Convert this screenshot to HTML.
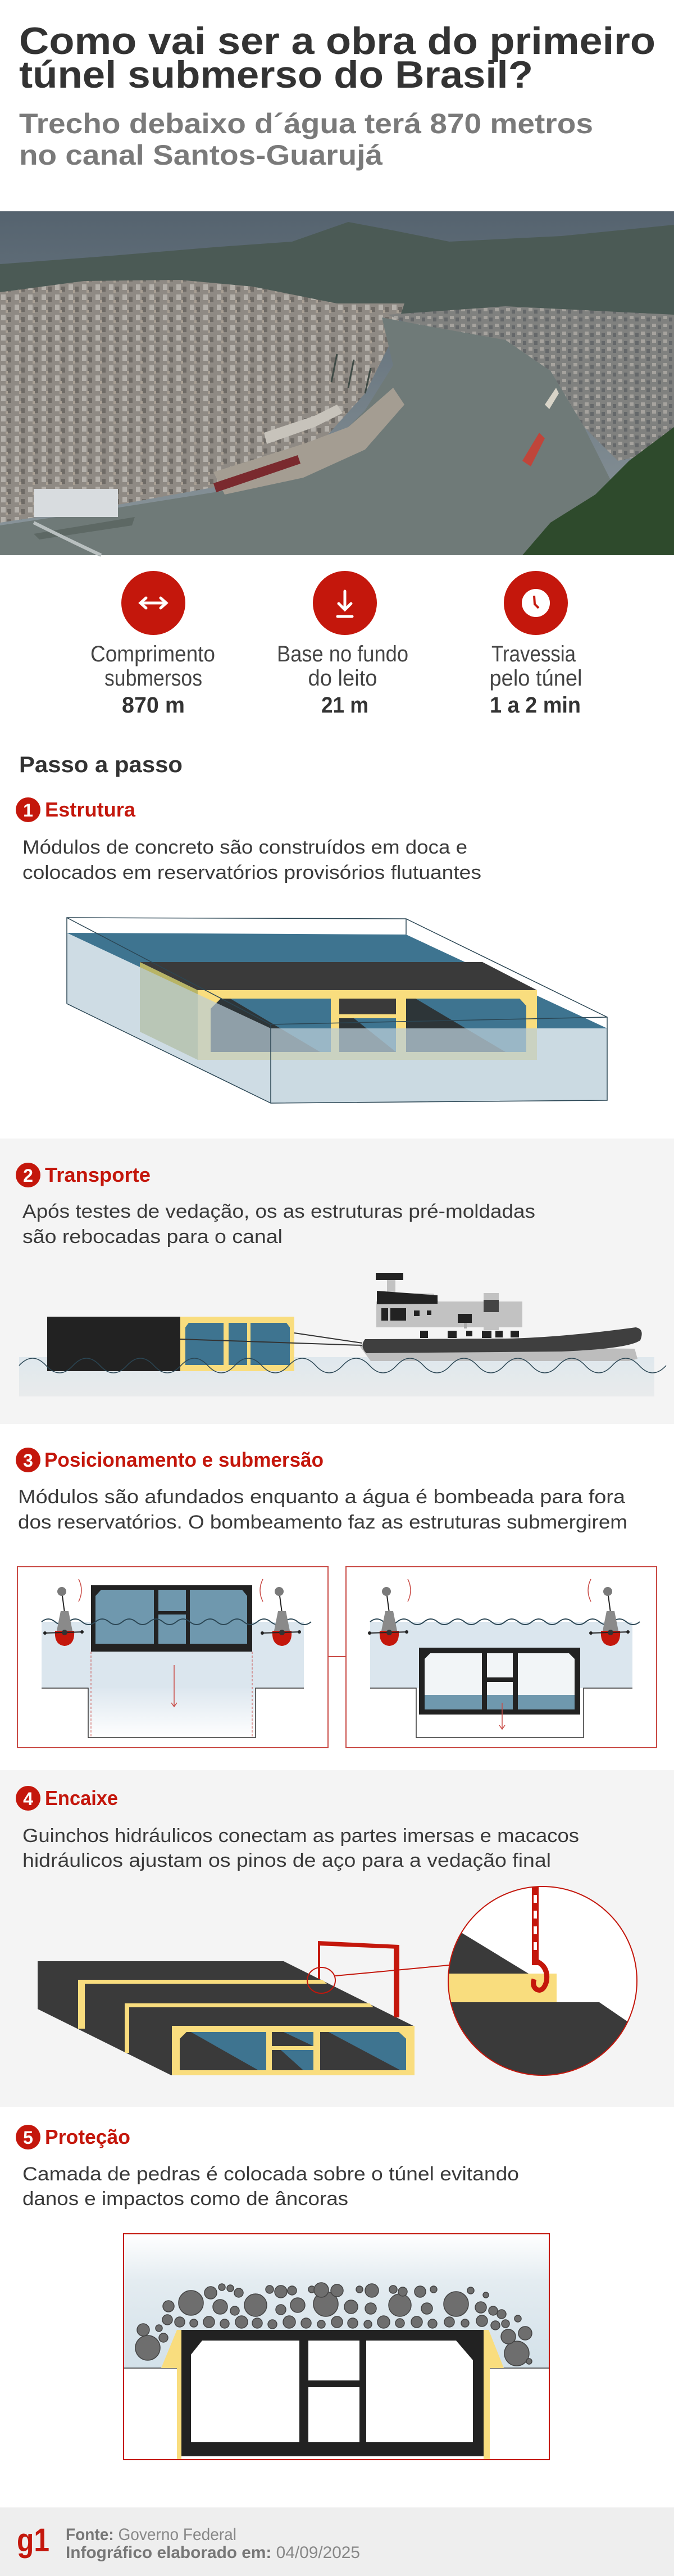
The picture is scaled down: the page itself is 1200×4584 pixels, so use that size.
<!DOCTYPE html>
<html><head><meta charset="utf-8"><style>
html,body{margin:0;padding:0;background:#fff}
svg{display:block}
text{font-family:"Liberation Sans",sans-serif}
.t{font-weight:bold;fill:#333}
.s{font-weight:bold;fill:#7a7a7a}
.l{fill:#444}
.b{font-weight:bold;fill:#333}
.h{font-weight:bold;fill:#c4170c}
.d{fill:#3a3a3a}
</style></head><body>
<svg width="1200" height="4584" viewBox="0 0 1200 4584" xmlns="http://www.w3.org/2000/svg">
<defs>
<linearGradient id="sky" x1="0" y1="0" x2="0" y2="1"><stop offset="0" stop-color="#55636f"/><stop offset="1" stop-color="#8c979c"/></linearGradient>
<linearGradient id="wat2" x1="0" y1="0" x2="0" y2="1"><stop offset="0" stop-color="#dfe8ed"/><stop offset="1" stop-color="#e9ebec"/></linearGradient>
<linearGradient id="tr" x1="0" y1="0" x2="0" y2="1"><stop offset="0" stop-color="#dde7ef"/><stop offset="1" stop-color="#ffffff"/></linearGradient>
<linearGradient id="p5" x1="0" y1="0" x2="0" y2="1"><stop offset="0" stop-color="#ffffff"/><stop offset="0.35" stop-color="#e4ecf1"/><stop offset="1" stop-color="#d3e1e9"/></linearGradient>
<pattern id="city" width="24" height="18" patternUnits="userSpaceOnUse">
<rect width="24" height="18" fill="#8f8a84"/>
<rect x="2" y="2" width="8" height="10" fill="#b4b0aa"/>
<rect x="13" y="6" width="7" height="9" fill="#6f6b66"/>
<rect x="10" y="12" width="4" height="5" fill="#a89f94"/>
</pattern>
<pattern id="city2" width="20" height="14" patternUnits="userSpaceOnUse">
<rect width="20" height="14" fill="#80817f"/>
<rect x="1" y="2" width="7" height="6" fill="#a6a39e"/>
<rect x="11" y="5" width="6" height="7" fill="#65686a"/>
</pattern>
<g id="buoy">
<line x1="0" y1="0" x2="5" y2="38" stroke="#222" stroke-width="2"/>
<circle cx="0" cy="0" r="8" fill="#7a7a7a"/>
<path d="M-2,35 L12,35 L20,75 Q5,98 -10,75 Z" fill="#8a8a8a"/>
<path d="M-12,70 L22,70 Q24,95 5,97 Q-14,95 -12,70 Z" fill="#c4170c"/>
<line x1="-30" y1="74" x2="36" y2="72" stroke="#222" stroke-width="2"/>
<circle cx="-30" cy="74" r="3" fill="#222"/><circle cx="36" cy="72" r="3" fill="#222"/><circle cx="5" cy="73" r="5" fill="#333"/>
</g>
</defs>

<!-- Title -->
<text class="t" x="34" y="96" font-size="68" textLength="1133" lengthAdjust="spacingAndGlyphs">Como vai ser a obra do primeiro</text>
<text class="t" x="34" y="156" font-size="68" textLength="915" lengthAdjust="spacingAndGlyphs">túnel submerso do Brasil?</text>
<text class="s" x="34" y="237" font-size="50" textLength="1022" lengthAdjust="spacingAndGlyphs">Trecho debaixo d´água terá 870 metros</text>
<text class="s" x="34" y="293" font-size="50" textLength="647" lengthAdjust="spacingAndGlyphs">no canal Santos-Guarujá</text>

<!-- Photo approximation -->
<rect x="0" y="376" width="1200" height="612" fill="url(#sky)"/>
<polygon points="0,470 200,455 380,440 520,430 620,395 700,410 800,430 1000,420 1200,400 1200,560 0,560" fill="#4b5a55"/>
<polygon points="0,520 150,500 320,498 450,510 600,540 720,540 700,600 650,700 560,800 420,860 200,900 0,930" fill="url(#city)"/>
<polygon points="690,560 900,545 1200,560 1200,800 1100,820 1040,760 980,660 900,610 760,590" fill="url(#city2)"/>
<polygon points="680,565 760,580 900,605 980,660 1040,760 1090,860 1130,988 0,988 0,935 200,905 420,870 560,820 650,730 700,650" fill="#6f7a78"/>
<polygon points="380,840 540,790 620,760 700,690 720,720 650,800 540,850 400,880" fill="#a49d92"/>
<polygon points="470,770 560,740 600,720 610,735 560,760 475,790" fill="#c7c3bb"/>
<polygon points="380,860 530,810 535,825 385,876" fill="#7a2a2e"/>
<polygon points="60,950 240,920 235,935 70,960" fill="#5d6864"/>
<polygon points="1200,760 1120,820 1060,880 980,930 930,988 1200,988" fill="#2e4a2c"/>
<polygon points="930,820 960,770 970,780 945,830" fill="#c0453a"/>
<polygon points="970,720 990,690 995,700 978,728" fill="#d8d4c8"/>
<rect x="60" y="870" width="150" height="50" fill="#d8dcdf"/>
<g stroke="#3f4a45" stroke-width="3"><line x1="590" y1="680" x2="600" y2="630"/><line x1="620" y1="690" x2="630" y2="640"/><line x1="650" y1="700" x2="660" y2="655"/></g>
<path d="M180,988 Q120,960 60,930" stroke="#b9c0c0" stroke-width="6" fill="none"/>

<!-- Stats -->
<circle cx="273" cy="1073" r="57" fill="#c4170c"/>
<circle cx="614" cy="1073" r="57" fill="#c4170c"/>
<circle cx="954" cy="1073" r="57" fill="#c4170c"/>
<g stroke="#fff" stroke-width="5" fill="none" stroke-linecap="round">
<line x1="250" y1="1073" x2="296" y2="1073"/><polyline points="260,1064 250,1073 260,1082"/><polyline points="286,1064 296,1073 286,1082"/>
<line x1="614" y1="1052" x2="614" y2="1084"/><polyline points="603,1074 614,1085 625,1074"/><line x1="601" y1="1097" x2="627" y2="1097"/>
</g>
<circle cx="954" cy="1073" r="25" fill="#fff"/>
<polyline points="951,1060 952,1075 959,1082" stroke="#c4170c" stroke-width="4" fill="none"/>
<text class="l" x="272" y="1177" font-size="40" text-anchor="middle" textLength="222" lengthAdjust="spacingAndGlyphs">Comprimento</text>
<text class="l" x="273" y="1220" font-size="40" text-anchor="middle" textLength="174" lengthAdjust="spacingAndGlyphs">submersos</text>
<text class="b" x="273" y="1268" font-size="40" text-anchor="middle" textLength="112" lengthAdjust="spacingAndGlyphs">870 m</text>
<text class="l" x="610" y="1177" font-size="40" text-anchor="middle" textLength="234" lengthAdjust="spacingAndGlyphs">Base no fundo</text>
<text class="l" x="610" y="1220" font-size="40" text-anchor="middle" textLength="123" lengthAdjust="spacingAndGlyphs">do leito</text>
<text class="b" x="614" y="1268" font-size="40" text-anchor="middle" textLength="84" lengthAdjust="spacingAndGlyphs">21 m</text>
<text class="l" x="950" y="1177" font-size="40" text-anchor="middle" textLength="150" lengthAdjust="spacingAndGlyphs">Travessia</text>
<text class="l" x="954" y="1220" font-size="40" text-anchor="middle" textLength="165" lengthAdjust="spacingAndGlyphs">pelo túnel</text>
<text class="b" x="953" y="1268" font-size="40" text-anchor="middle" textLength="162" lengthAdjust="spacingAndGlyphs">1 a 2 min</text>

<text class="b" x="34" y="1374" font-size="40" textLength="291" lengthAdjust="spacingAndGlyphs">Passo a passo</text>

<!-- Step 1 -->
<circle cx="50" cy="1441" r="22" fill="#c4170c"/>
<text x="50" y="1453" font-size="32" font-weight="bold" fill="#fff" text-anchor="middle">1</text>
<text class="h" x="80" y="1453" font-size="36" textLength="161" lengthAdjust="spacingAndGlyphs">Estrutura</text>
<text class="d" x="40" y="1519" font-size="34" textLength="792" lengthAdjust="spacingAndGlyphs">Módulos de concreto são construídos em doca e</text>
<text class="d" x="40" y="1564" font-size="34" textLength="817" lengthAdjust="spacingAndGlyphs">colocados em reservatórios provisórios flutuantes</text>

<polygon points="119,1660 723,1663 1081,1830 482,1830" fill="#3e7490"/>
<polygon points="249,1712 859,1712 956,1762 352,1762" fill="#3a3a3a"/>
<polygon points="249,1712 352,1762 352,1886 249,1836" fill="#b8b466"/>
<rect x="352" y="1762" width="604" height="124" fill="#f9dd7e"/>
<polygon points="375,1795 393,1777 589,1777 589,1872 375,1872" fill="#2d3538"/>
<polygon points="410,1777 589,1777 589,1872 570,1872" fill="#3e7490"/>
<rect x="604" y="1777" width="101" height="28" fill="#3a3a3a"/>
<polygon points="604,1812 705,1812 705,1872 604,1872" fill="#2d3538"/>
<polygon points="630,1812 705,1812 705,1872" fill="#3e7490"/>
<polygon points="723,1777 925,1777 937,1790 937,1872 723,1872" fill="#2d3538"/>
<polygon points="740,1777 925,1777 937,1790 937,1872 900,1872" fill="#3e7490"/>
<polygon points="119,1660 482,1830 482,1963 119,1786" fill="#b9cdd8" opacity="0.7"/>
<polygon points="482,1830 1081,1830 1081,1958 482,1963" fill="#b9cdd8" opacity="0.75"/>
<g stroke="#2b4654" stroke-width="1.5" fill="none">
<polyline points="119,1786 119,1633 723,1635 1081,1810 1081,1958 482,1963 119,1786"/>
<line x1="119" y1="1633" x2="482" y2="1823"/>
<line x1="482" y1="1823" x2="482" y2="1963"/>
<line x1="482" y1="1823" x2="1081" y2="1810"/>
<line x1="723" y1="1635" x2="723" y2="1663"/>
</g>

<!-- Step 2 -->
<rect x="0" y="2026" width="1200" height="508" fill="#f4f4f4"/>
<circle cx="50" cy="2091" r="22" fill="#c4170c"/>
<text x="50" y="2103" font-size="32" font-weight="bold" fill="#fff" text-anchor="middle">2</text>
<text class="h" x="80" y="2103" font-size="36" textLength="188" lengthAdjust="spacingAndGlyphs">Transporte</text>
<text class="d" x="40" y="2167" font-size="34" textLength="913" lengthAdjust="spacingAndGlyphs">Após testes de vedação, os as estruturas pré-moldadas</text>
<text class="d" x="40" y="2212" font-size="34" textLength="463" lengthAdjust="spacingAndGlyphs">são rebocadas para o canal</text>

<rect x="34" y="2415" width="1131" height="70" fill="url(#wat2)"/>
<rect x="84" y="2343" width="237" height="97" fill="#222"/>
<rect x="321" y="2343" width="203" height="97" fill="#f9dd7e"/>
<polygon points="330,2362 336,2354 398,2354 398,2429 330,2429" fill="#3e7490"/>
<rect x="407" y="2354" width="33" height="75" fill="#3e7490"/>
<polygon points="446,2354 510,2354 516,2362 516,2429 446,2429" fill="#3e7490"/>
<line x1="524" y1="2372" x2="645" y2="2390" stroke="#333" stroke-width="2"/>
<line x1="321" y1="2383" x2="645" y2="2394" stroke="#333" stroke-width="2"/>
<!-- tug -->
<polygon points="640,2395 1130,2400 1135,2418 1120,2422 660,2422" fill="#bdbdbd"/>
<rect x="670" y="2316" width="260" height="46" fill="#c2c2c2"/>
<polygon points="675,2300 772,2302 808,2362 675,2362" fill="#c2c2c2"/>
<rect x="689" y="2277" width="15" height="25" fill="#c2c2c2"/>
<rect x="669" y="2265" width="49" height="13" fill="#222"/>
<polygon points="671,2297 779,2305 779,2320 671,2321" fill="#222"/>
<rect x="861" y="2301" width="27" height="66" fill="#c2c2c2"/>
<rect x="861" y="2313" width="27" height="22" fill="#444"/>
<rect x="815" y="2338" width="25" height="16" fill="#222"/><rect x="826" y="2354" width="5" height="10" fill="#aaa"/>
<rect x="679" y="2328" width="12" height="22" fill="#222"/><rect x="695" y="2328" width="28" height="22" fill="#222"/>
<rect x="737" y="2332" width="10" height="10" fill="#222"/><rect x="760" y="2332" width="8" height="8" fill="#222"/>
<rect x="748" y="2368" width="14" height="13" fill="#222"/><rect x="797" y="2368" width="16" height="13" fill="#222"/><rect x="830" y="2368" width="11" height="10" fill="#222"/><rect x="858" y="2368" width="17" height="13" fill="#222"/><rect x="882" y="2368" width="13" height="12" fill="#222"/><rect x="909" y="2368" width="15" height="12" fill="#222"/>
<path d="M650,2383 Q640,2395 652,2408 L1000,2405 Q1120,2400 1140,2385 Q1148,2365 1132,2362 Q1000,2380 900,2382 L660,2383 Z" fill="#3f3f3f"/>
<path d="M34,2430 q24,-26 48,0 t48,0 t48,0 t48,0 t48,0 t48,0 t48,0 t48,0 t48,0 t48,0 t48,0 t48,0 t48,0 t48,0 t48,0 t48,0 t48,0 t48,0 t48,0 t48,0 t48,0 t48,0 t48,0 t48,0" fill="none" stroke="#2b4654" stroke-width="1.5"/>

<!-- Step 3 -->
<circle cx="50" cy="2598" r="22" fill="#c4170c"/>
<text x="50" y="2610" font-size="32" font-weight="bold" fill="#fff" text-anchor="middle">3</text>
<text class="h" x="79" y="2610" font-size="36" textLength="497" lengthAdjust="spacingAndGlyphs">Posicionamento e submersão</text>
<text class="d" x="32" y="2675" font-size="34" textLength="1081" lengthAdjust="spacingAndGlyphs">Módulos são afundados enquanto a água é bombeada para fora</text>
<text class="d" x="32" y="2720" font-size="34" textLength="1085" lengthAdjust="spacingAndGlyphs">dos reservatórios. O bombeamento faz as estruturas submergirem</text>

<rect x="31" y="2788" width="553" height="322" fill="#fff" stroke="#c94a45" stroke-width="2"/>
<rect x="616" y="2788" width="553" height="322" fill="#fff" stroke="#c94a45" stroke-width="2"/>
<line x1="584" y1="2948" x2="616" y2="2948" stroke="#c94a45" stroke-width="2"/>
<!-- left panel -->
<rect x="74" y="2886" width="467" height="118" fill="#dbe6ee"/>
<rect x="157" y="3004" width="298" height="88" fill="url(#tr)"/>
<polyline points="74,3004 157,3004 157,3092 455,3092 455,3004 541,3004" fill="none" stroke="#333" stroke-width="1.5"/>
<rect x="162" y="2821" width="287" height="118" fill="#222"/>
<polygon points="170,2840 180,2829 274,2829 274,2925 170,2925" fill="#6f98ae"/>
<rect x="282" y="2829" width="49" height="38" fill="#6f98ae"/><rect x="282" y="2873" width="49" height="52" fill="#6f98ae"/>
<polygon points="338,2829 431,2829 440,2840 440,2925 338,2925" fill="#6f98ae"/>
<g stroke="#c94a45" stroke-width="1" stroke-dasharray="4,3"><line x1="162" y1="2939" x2="162" y2="3092"/><line x1="449" y1="2939" x2="449" y2="3092"/><line x1="741" y1="3051" x2="741" y2="3092" /><line x1="1033" y1="3051" x2="1033" y2="3092"/></g>
<line x1="310" y1="2963" x2="310" y2="3036" stroke="#c94a45" stroke-width="1.5"/><polyline points="305,3030 310,3037 315,3030" fill="none" stroke="#c94a45" stroke-width="1.5"/>
<!-- right panel -->
<rect x="659" y="2886" width="467" height="118" fill="#dbe6ee"/>
<rect x="741" y="3004" width="298" height="88" fill="#fff"/>
<polyline points="659,3004 741,3004 741,3092 1039,3092 1039,3004 1126,3004" fill="none" stroke="#333" stroke-width="1.5"/>
<rect x="746" y="2932" width="287" height="119" fill="#222"/>
<polygon points="756,2952 766,2942 1013,2942 1023,2952 1023,3042 756,3042" fill="#f2f5f7"/>
<rect x="756" y="3016" width="267" height="26" fill="#6f98ae"/>
<rect x="858" y="2942" width="9" height="100" fill="#222"/><rect x="913" y="2942" width="9" height="100" fill="#222"/>
<rect x="867" y="2985" width="46" height="8" fill="#222"/>
<line x1="894" y1="3030" x2="894" y2="3076" stroke="#c94a45" stroke-width="1.5"/><polyline points="889,3070 894,3077 899,3070" fill="none" stroke="#c94a45" stroke-width="1.5"/>
<!-- waves -->
<path d="M74,2886 q12,-10 24,0 t24,0 t24,0 t24,0 t24,0 t24,0 t24,0 t24,0 t24,0 t24,0 t24,0 t24,0 t24,0 t24,0 t24,0 t24,0 t24,0 t24,0 t24,0 t24,0" fill="none" stroke="#2b4654" stroke-width="2"/>
<path d="M659,2886 q12,-10 24,0 t24,0 t24,0 t24,0 t24,0 t24,0 t24,0 t24,0 t24,0 t24,0 t24,0 t24,0 t24,0 t24,0 t24,0 t24,0 t24,0 t24,0 t24,0 t24,0" fill="none" stroke="#2b4654" stroke-width="2"/>
<use href="#buoy" x="110" y="2832"/>
<use href="#buoy" x="497" y="2832"/>
<use href="#buoy" x="688" y="2832"/>
<use href="#buoy" x="1082" y="2832"/>
<g fill="none" stroke="#c94a45" stroke-width="1.5">
<path d="M140,2810 q10,20 0,40"/><path d="M468,2810 q-10,20 0,40"/>
<path d="M726,2810 q10,20 0,40"/><path d="M1052,2810 q-10,20 0,40"/>
</g>

<!-- Step 4 -->
<rect x="0" y="3150" width="1200" height="599" fill="#f4f4f4"/>
<circle cx="50" cy="3200" r="22" fill="#c4170c"/>
<text x="50" y="3212" font-size="32" font-weight="bold" fill="#fff" text-anchor="middle">4</text>
<text class="h" x="80" y="3212" font-size="36" textLength="130" lengthAdjust="spacingAndGlyphs">Encaixe</text>
<text class="d" x="40" y="3278" font-size="34" textLength="991" lengthAdjust="spacingAndGlyphs">Guinchos hidráulicos conectam as partes imersas e macacos</text>
<text class="d" x="40" y="3322" font-size="34" textLength="941" lengthAdjust="spacingAndGlyphs">hidráulicos ajustam os pinos de aço para a vedação final</text>

<polygon points="67,3490 505,3490 738,3606 738,3693 305,3693 67,3575" fill="#3a3a3a"/>
<polygon points="139,3523 574,3523 582,3530 151,3530 151,3610 139,3610" fill="#f9dd7e"/>
<polygon points="222,3565 658,3565 665,3572 230,3572 230,3653 222,3653" fill="#f9dd7e"/>
<rect x="306" y="3605" width="432" height="88" fill="#f9dd7e"/>
<polygon points="320,3628 332,3616 474,3616 474,3684 320,3684" fill="#3a3a3a"/>
<polygon points="340,3616 474,3616 474,3684 460,3684" fill="#3e7490"/>
<rect x="484" y="3616" width="74" height="25" fill="#3a3a3a"/><polygon points="505,3616 558,3616 558,3641" fill="#3e7490"/>
<rect x="484" y="3648" width="74" height="36" fill="#3a3a3a"/><polygon points="500,3648 558,3648 558,3684 540,3684" fill="#3e7490"/>
<polygon points="570,3616 710,3616 723,3628 723,3684 570,3684" fill="#3a3a3a"/>
<polygon points="585,3616 710,3616 723,3628 723,3684 713,3684" fill="#3e7490"/>
<!-- crane -->
<g fill="#c4170c">
<polygon points="566,3454 711,3461 711,3468 566,3462"/>
<rect x="701" y="3462" width="10" height="128"/>
<rect x="566" y="3456" width="4" height="66"/>
</g>
<ellipse cx="572" cy="3524" rx="25" ry="23" fill="none" stroke="#c4170c" stroke-width="2"/>
<line x1="597" y1="3516" x2="800" y2="3497" stroke="#c4170c" stroke-width="2"/>
<!-- magnifier -->
<clipPath id="cc"><circle cx="966" cy="3525" r="168"/></clipPath>
<g clip-path="url(#cc)">
<rect x="798" y="3357" width="336" height="336" fill="#fff"/>
<polygon points="790,3420 941,3512 790,3512" fill="#3a3a3a"/>
<rect x="790" y="3512" width="201" height="51" fill="#f9dd7e"/>
<polygon points="991,3512 1067,3563 991,3563" fill="#fff"/>
<polygon points="790,3563 1067,3563 1140,3613 1140,3700 790,3700" fill="#3a3a3a"/>
<rect x="947" y="3357" width="12" height="140" fill="#c4170c"/>
<g fill="#fff"><rect x="950" y="3372" width="6" height="14"/><rect x="950" y="3400" width="6" height="14"/><rect x="950" y="3428" width="6" height="14"/><rect x="950" y="3456" width="6" height="14"/></g>
<path d="M955,3490 q22,10 18,36 q-6,20 -18,14 q-8,-6 -4,-18" fill="none" stroke="#c4170c" stroke-width="9"/>
</g>
<circle cx="966" cy="3525" r="168" fill="none" stroke="#c4170c" stroke-width="2"/>

<!-- Step 5 -->
<circle cx="50" cy="3803" r="22" fill="#c4170c"/>
<text x="50" y="3815" font-size="32" font-weight="bold" fill="#fff" text-anchor="middle">5</text>
<text class="h" x="80" y="3815" font-size="36" textLength="152" lengthAdjust="spacingAndGlyphs">Proteção</text>
<text class="d" x="40" y="3880" font-size="34" textLength="884" lengthAdjust="spacingAndGlyphs">Camada de pedras é colocada sobre o túnel evitando</text>
<text class="d" x="40" y="3924" font-size="34" textLength="580" lengthAdjust="spacingAndGlyphs">danos e impactos como de âncoras</text>

<rect x="220" y="3975" width="758" height="239" fill="url(#p5)"/>
<rect x="220" y="4214" width="758" height="163" fill="#fff"/>
<line x1="220" y1="4214" x2="978" y2="4214" stroke="#333" stroke-width="1.5"/>
<polygon points="287,4214 315,4146 323,4146 323,4377 315,4377 315,4214" fill="#f9dd7e"/>
<polygon points="897,4214 870,4146 861,4146 861,4377 872,4377 872,4214" fill="#f9dd7e"/>
<rect x="323" y="4146" width="538" height="225" fill="#222"/>
<polygon points="340,4190 360,4165 533,4165 533,4346 340,4346" fill="#fff"/>
<rect x="549" y="4165" width="91" height="71" fill="#fff"/><rect x="549" y="4248" width="91" height="98" fill="#fff"/>
<polygon points="652,4165 812,4165 842,4200 842,4346 652,4346" fill="#fff"/>
<g fill="#6e6e6e" stroke="#444" stroke-width="1.5">
<circle cx="263" cy="4178" r="22"/><circle cx="255" cy="4146" r="11"/><circle cx="283" cy="4143" r="6"/><circle cx="291" cy="4160" r="8"/>
<circle cx="920" cy="4188" r="22"/><circle cx="905" cy="4158" r="13"/><circle cx="935" cy="4152" r="12"/><circle cx="942" cy="4202" r="5"/><circle cx="922" cy="4126" r="6"/><circle cx="900" cy="4135" r="7"/><circle cx="893" cy="4118" r="8"/>
<circle cx="298" cy="4128" r="9"/><circle cx="320" cy="4132" r="9"/><circle cx="345" cy="4134" r="7"/><circle cx="372" cy="4132" r="10"/><circle cx="400" cy="4135" r="8"/><circle cx="430" cy="4132" r="11"/><circle cx="458" cy="4134" r="9"/><circle cx="485" cy="4136" r="8"/><circle cx="515" cy="4132" r="11"/><circle cx="545" cy="4134" r="9"/><circle cx="572" cy="4136" r="7"/><circle cx="600" cy="4132" r="10"/><circle cx="628" cy="4134" r="9"/><circle cx="655" cy="4136" r="7"/><circle cx="683" cy="4132" r="11"/><circle cx="712" cy="4134" r="8"/><circle cx="742" cy="4132" r="10"/><circle cx="770" cy="4135" r="8"/><circle cx="800" cy="4132" r="9"/><circle cx="828" cy="4134" r="7"/><circle cx="858" cy="4130" r="10"/><circle cx="882" cy="4138" r="8"/>
<circle cx="300" cy="4104" r="10"/><circle cx="340" cy="4098" r="22"/><circle cx="392" cy="4105" r="13"/><circle cx="418" cy="4112" r="8"/><circle cx="455" cy="4102" r="20"/><circle cx="500" cy="4110" r="9"/><circle cx="530" cy="4102" r="13"/><circle cx="580" cy="4100" r="22"/><circle cx="625" cy="4105" r="12"/><circle cx="660" cy="4108" r="10"/><circle cx="712" cy="4102" r="20"/><circle cx="760" cy="4108" r="10"/><circle cx="812" cy="4100" r="22"/><circle cx="856" cy="4106" r="10"/><circle cx="878" cy="4112" r="8"/>
<circle cx="375" cy="4080" r="11"/><circle cx="395" cy="4070" r="6"/><circle cx="410" cy="4072" r="6"/><circle cx="425" cy="4080" r="8"/><circle cx="480" cy="4074" r="7"/><circle cx="500" cy="4078" r="11"/><circle cx="520" cy="4076" r="8"/><circle cx="555" cy="4074" r="6"/><circle cx="572" cy="4075" r="13"/><circle cx="600" cy="4076" r="11"/><circle cx="640" cy="4074" r="6"/><circle cx="662" cy="4076" r="12"/><circle cx="700" cy="4074" r="7"/><circle cx="717" cy="4078" r="8"/><circle cx="748" cy="4078" r="10"/><circle cx="772" cy="4074" r="6"/><circle cx="838" cy="4076" r="6"/><circle cx="865" cy="4084" r="5"/>
</g>
<rect x="220" y="3975" width="758" height="402" fill="none" stroke="#c4170c" stroke-width="2"/>

<!-- Footer -->
<rect x="0" y="4462" width="1200" height="122" fill="#eeeeee"/>
<text x="30" y="4540" font-size="58" font-weight="bold" fill="#c4170c" textLength="58" lengthAdjust="spacingAndGlyphs">g1</text>
<text x="117" y="4520" font-size="30" fill="#888" textLength="304" lengthAdjust="spacingAndGlyphs"><tspan font-weight="bold" fill="#777">Fonte:</tspan> Governo Federal</text>
<text x="117" y="4552" font-size="30" fill="#888" textLength="524" lengthAdjust="spacingAndGlyphs"><tspan font-weight="bold" fill="#777">Infográfico elaborado em:</tspan> 04/09/2025</text>
</svg>
</body></html>
